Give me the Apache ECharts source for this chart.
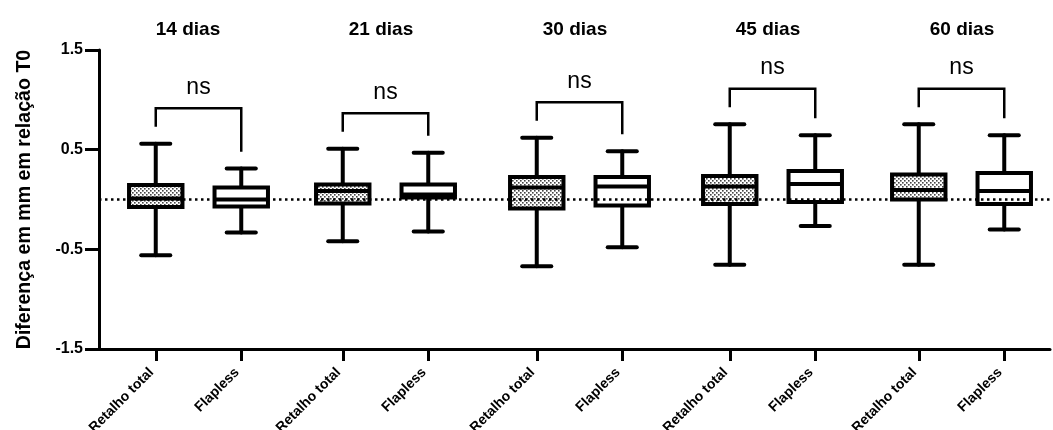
<!DOCTYPE html>
<html>
<head>
<meta charset="utf-8">
<script src="https://cdn.jsdelivr.net/npm/echarts@6/dist/echarts.min.js"></script>
<style>
html,body{margin:0;padding:0;background:#fff;}
#chart{width:1053px;height:430px;}
</style>
</head>
<body>
<div id="chart"></div>
<script>
// ---- data ----
const categories = ['Retalho total', 'Flapless'];
const groupNames = ['14 dias', '21 dias', '30 dias', '45 dias', '60 dias'];
// each row: [min, Q1, median, Q3, max]
const retalhoTotal = [
  [-0.56, -0.075, 0.01, 0.145, 0.56],
  [-0.42, -0.04, 0.085, 0.15, 0.51],
  [-0.67, -0.09, 0.12, 0.225, 0.62],
  [-0.655, -0.045, 0.13, 0.235, 0.755],
  [-0.655, 0.0, 0.095, 0.25, 0.755]
];
const flapless = [
  [-0.33, -0.07, 0.0, 0.12, 0.31],
  [-0.32, 0.02, 0.05, 0.15, 0.47],
  [-0.48, -0.06, 0.13, 0.225, 0.485],
  [-0.265, -0.025, 0.155, 0.285, 0.645],
  [-0.30, -0.045, 0.085, 0.265, 0.645]
];
const significance = ['ns', 'ns', 'ns', 'ns', 'ns'];
const yTickLabels = ['-1.5', '-0.5', '0.5', '1.5'];
const yAxisTitle = 'Diferença em mm em relação T0';

// ---- layout / style ----
const FONT = '"Liberation Sans", Arial, Helvetica, sans-serif';
const gridTop = 50, gridBottom = 81;
const groupLefts = [113, 300, 494, 687, 876];
const groupWidth = 171;
const titleX = [188, 381, 575, 768, 962];

// dotted pattern for "Retalho total"
const pat = document.createElement('canvas');
pat.width = 4; pat.height = 4;
const pc = pat.getContext('2d');
pc.fillStyle = '#ffffff'; pc.fillRect(0, 0, 4, 4);
pc.fillStyle = '#444444';
pc.fillRect(0, 0, 1.6, 1.6);
pc.fillRect(2, 2, 1.6, 1.6);
const dotFill = { image: pat, repeat: 'repeat' };

function renderBox(params, api) {
  const x = api.value(0);
  const lo = api.value(1), q1 = api.value(2), med = api.value(3), q3 = api.value(4), hi = api.value(5);
  const band = api.size([1, 0])[0];
  const bw = band * 0.625, cw = band * 0.34;
  const pHi = api.coord([x, hi]), pQ3 = api.coord([x, q3]), pMed = api.coord([x, med]);
  const pQ1 = api.coord([x, q1]), pLo = api.coord([x, lo]);
  const cx = pHi[0];
  const ls = { stroke: '#000', lineWidth: 4, lineCap: 'round' };
  const fill = params.dataIndex === 0 ? dotFill : '#ffffff';
  return {
    type: 'group',
    children: [
      { type: 'line', shape: { x1: cx, y1: pHi[1], x2: cx, y2: pQ3[1] }, style: ls },
      { type: 'line', shape: { x1: cx, y1: pQ1[1], x2: cx, y2: pLo[1] }, style: ls },
      { type: 'line', shape: { x1: cx - cw / 2, y1: pHi[1], x2: cx + cw / 2, y2: pHi[1] }, style: ls },
      { type: 'line', shape: { x1: cx - cw / 2, y1: pLo[1], x2: cx + cw / 2, y2: pLo[1] }, style: ls },
      { type: 'rect', shape: { x: cx - bw / 2, y: pQ3[1], width: bw, height: pQ1[1] - pQ3[1] },
        style: { fill: fill, stroke: '#000', lineWidth: 4 } },
      { type: 'line', shape: { x1: cx - bw / 2, y1: pMed[1], x2: cx + bw / 2, y2: pMed[1] },
        style: { stroke: '#000', lineWidth: 4 } }
    ]
  };
}

function makeBracketRenderer(label) {
  return function (params, api) {
    const a = api.value(0), b = api.value(1);
    const top = Math.max(a, b) + 0.355;
    const pa = api.coord([0, a + 0.17]);
    const pb = api.coord([1, b + 0.17]);
    const pt0 = api.coord([0, top]);
    const pt1 = api.coord([1, top]);
    return {
      type: 'group',
      children: [
        { type: 'polyline', shape: { points: [[pa[0], pa[1]], [pt0[0], pt0[1]], [pt1[0], pt1[1]], [pb[0], pb[1]]] },
          style: { stroke: '#000', lineWidth: 2.5, fill: null } },
        { type: 'text', x: (pt0[0] + pt1[0]) / 2, y: pt0[1] - 21,
          style: { text: label, font: '23px ' + FONT, fill: '#000',
                   align: 'center', verticalAlign: 'middle', textAlign: 'center', textVerticalAlign: 'middle' } }
      ]
    };
  };
}

const grids = [{ left: 99, right: 3, top: gridTop, bottom: gridBottom, outerBoundsMode: 'none', containLabel: false }];
const xAxes = [{
  gridIndex: 0, type: 'value', min: 0, max: 1, position: 'bottom',
  axisLine: { show: true, onZero: false, lineStyle: { color: '#000', width: 3 } },
  axisTick: { show: false }, axisLabel: { show: false }, splitLine: { show: false }
}];
const yAxes = [
  {
    gridIndex: 0, type: 'value', min: -1.5, max: 1.5, position: 'left',
    axisLine: { show: true, onZero: false, lineStyle: { color: '#000', width: 3 } },
    axisTick: { show: false }, axisLabel: { show: false }, splitLine: { show: false },
    name: yAxisTitle, nameLocation: 'middle', nameRotate: 90, nameGap: 64,
    nameTextStyle: { fontFamily: FONT, fontWeight: 'bold', fontSize: 19.6, color: '#000' }
  },
  {
    gridIndex: 0, type: 'value', min: 0, max: yTickLabels.length - 1, interval: 1, position: 'left', offset: 0,
    axisLine: { show: false, onZero: false },
    axisTick: { show: true, length: 14, lineStyle: { color: '#000', width: 3 } },
    axisLabel: { show: true, margin: 16, formatter: (v) => yTickLabels[Math.round(v)],
      fontFamily: FONT, fontWeight: 'bold', fontSize: 16, color: '#000' },
    splitLine: { show: false }
  }
];
const series = [{
  type: 'line', xAxisIndex: 0, yAxisIndex: 0, data: [], z: 10, silent: true,
  markLine: {
    silent: true, symbol: 'none', animation: false,
    label: { show: false },
    lineStyle: { color: '#000', width: 2.5, type: [2.5, 3.5] },
    data: [{ yAxis: 0 }]
  }
}];

groupNames.forEach((g, i) => {
  grids.push({ left: groupLefts[i], width: groupWidth, top: gridTop, bottom: gridBottom, outerBoundsMode: 'none', containLabel: false });
  xAxes.push({
    gridIndex: i + 1, type: 'category', data: categories, position: 'bottom',
    axisLine: { show: true, onZero: false, lineStyle: { color: '#000', width: 3 } },
    axisTick: { show: true, alignWithLabel: true, length: 12, lineStyle: { color: '#000', width: 3 } },
    axisLabel: { rotate: 45, margin: 17, padding: [0, 6, 0, 0], interval: 0, fontFamily: FONT, fontWeight: 'bold', fontSize: 14, color: '#000' },
    splitLine: { show: false }
  });
  yAxes.push({ gridIndex: i + 1, type: 'value', min: -1.5, max: 1.5, show: false });
  series.push({
    type: 'custom', xAxisIndex: i + 1, yAxisIndex: i + 2, z: 3,
    renderItem: renderBox,
    encode: { x: 0, y: [1, 2, 3, 4, 5] },
    data: [[0].concat(retalhoTotal[i]), [1].concat(flapless[i])]
  });
  series.push({
    type: 'custom', xAxisIndex: i + 1, yAxisIndex: i + 2, z: 3,
    renderItem: makeBracketRenderer(significance[i]),
    encode: { y: [0, 1] },
    data: [[retalhoTotal[i][4], flapless[i][4]]]
  });
});

const graphic = groupNames.map((g, i) => ({
  type: 'text', x: titleX[i], y: 30,
  style: { text: g, font: 'bold 19px ' + FONT, fill: '#000',
           align: 'center', verticalAlign: 'middle', textAlign: 'center', textVerticalAlign: 'middle' }
}));

const chart = echarts.init(document.getElementById('chart'), null, { renderer: 'canvas' });
chart.setOption({
  animation: false,
  backgroundColor: '#fff',
  grid: grids,
  xAxis: xAxes,
  yAxis: yAxes,
  series: series,
  graphic: graphic
});
</script>
</body>
</html>
